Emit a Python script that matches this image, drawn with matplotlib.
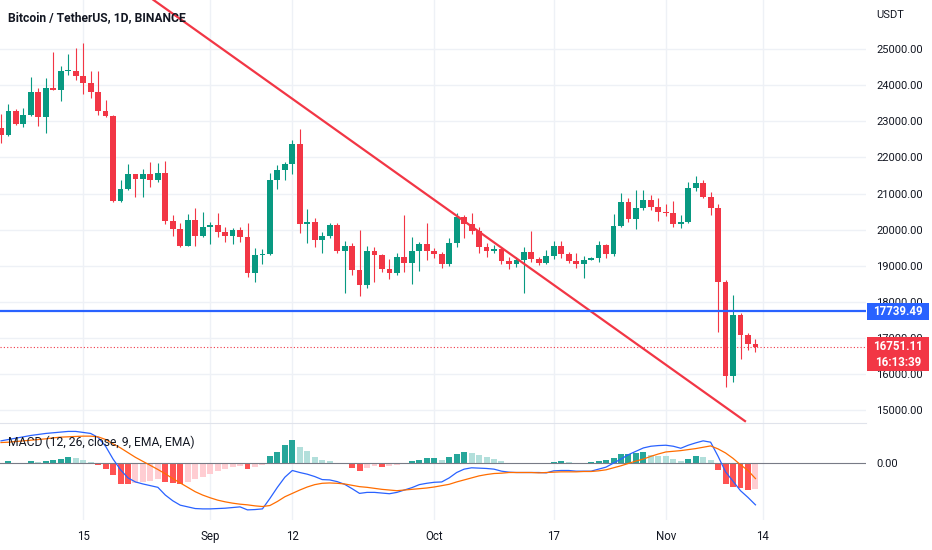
import numpy as np
import pandas as pd
import matplotlib
matplotlib.use("Agg")
import matplotlib.pyplot as plt
from matplotlib.patches import Rectangle
from matplotlib.transforms import blended_transform_factory

plt.rcParams["font.family"] = ["Roboto", "DejaVu Sans"]

# --- data (BTC/USDT daily, 2022-08-04 .. 2022-11-13) ---
start = "2022-08-04"
opens = [22810, 22620, 23290, 22930, 23170, 23810, 23110, 23920, 23880, 24400,
         24410, 24270, 24070, 23820, 23300, 23150, 20800, 21130, 21530, 21400,
         21530, 21380, 21560, 20230, 20030, 19550, 20280, 19810, 20070, 20130,
         19940, 19820, 20000, 19790, 18790, 19300, 19330, 21380, 21650, 21830,
         22380, 20160, 20200, 19700, 19830, 20130, 19410, 19540, 18880, 18460,
         19410, 19290, 18920, 18800, 19230, 19080, 19410, 19590, 19420, 19310,
         19050, 19630, 20340, 20160, 19960, 19530, 19420, 19450, 19140, 19050,
         19160, 19380, 19180, 19070, 19270, 19550, 19330, 19120, 19040, 19170,
         19210, 19570, 19330, 20090, 20770, 20290, 20600, 20820, 20630, 20480,
         20460, 20150, 20210, 21150, 21300, 20910, 20590, 18560, 15940, 17630,
         17070, 16830]
highs = [23200, 23470, 23340, 23380, 24240, 23920, 24200, 24920, 24550, 24860,
         25030, 25170, 24410, 24410, 23590, 23180, 21380, 21810, 21540, 21670,
         21880, 21840, 21900, 20400, 20180, 20420, 20590, 20480, 20220, 20450,
         20060, 20040, 20080, 20180, 19480, 19450, 21580, 21790, 21870, 22490,
         22800, 20560, 20330, 19920, 20180, 20180, 19690, 19640, 19990, 19540,
         19520, 19320, 19180, 19340, 20400, 19790, 19670, 20180, 19480, 19390,
         19760, 20470, 20410, 20450, 20060, 19620, 19570, 19530, 19250, 19250,
         19510, 19970, 19250, 19430, 19690, 19690, 19390, 19360, 19270, 19250,
         19690, 19590, 20420, 21010, 20880, 21100, 21100, 20960, 20870, 20710,
         20800, 20400, 21310, 21490, 21380, 21050, 20710, 18600, 18200, 17700,
         17140, 16970]
lows = [22410, 22600, 22900, 22840, 23150, 22880, 22670, 23870, 23580, 24290,
        24150, 23750, 23660, 23180, 23130, 20760, 20770, 21100, 20900, 20900,
        21170, 21330, 20160, 19820, 19530, 19550, 19540, 19800, 19590, 19790,
        19660, 19600, 19660, 18680, 18540, 19040, 19300, 21120, 21380, 21540,
        19900, 19640, 19530, 19340, 19780, 19340, 18250, 18740, 18170, 18370,
        18540, 18830, 18630, 18740, 18830, 18480, 18860, 19160, 19200, 18940,
        18990, 19510, 19760, 19870, 19360, 19250, 19340, 19050, 18900, 18970,
        18230, 19090, 19010, 19040, 19180, 19200, 19070, 18930, 18670, 19160,
        19110, 19200, 19270, 20070, 20210, 20020, 20540, 20540, 20250, 20380,
        20080, 20040, 20190, 21080, 20880, 20400, 17170, 15630, 15780, 16400,
        16660, 16600]
closes = [22620, 23290, 22930, 23170, 23810, 23110, 23920, 23880, 24400, 24410,
          24270, 24070, 23820, 23300, 23150, 20800, 21130, 21530, 21400, 21530,
          21380, 21560, 20230, 20030, 19550, 20280, 19810, 20070, 20130, 19940,
          19820, 20000, 19790, 18790, 19300, 19330, 21380, 21650, 21830, 22380,
          20160, 20200, 19700, 19830, 20130, 19410, 19540, 18880, 18460, 19410,
          19290, 18920, 18800, 19230, 19080, 19410, 19590, 19420, 19310, 19050,
          19630, 20340, 20160, 19960, 19530, 19420, 19450, 19140, 19050, 19160,
          19380, 19180, 19070, 19270, 19550, 19330, 19120, 19040, 19170, 19210,
          19570, 19330, 20090, 20770, 20290, 20600, 20820, 20630, 20480, 20460,
          20150, 20210, 21150, 21300, 20910, 20590, 18560, 15940, 17630, 17070,
          16830, 16751.11]

macd_line = [330, 350, 370, 390, 410, 425, 440, 450, 460, 470,
             470, 455, 440, 380, 250, 60, -100, -220, -280, -310,
             -335, -360, -475, -560, -625, -650, -675, -680, -680, -675,
             -670, -660, -650, -695, -690, -680, -525, -360, -210, -110,
             -140, -165, -200, -245, -250, -275, -315, -380, -450, -435,
             -435, -445, -455, -435, -400, -365, -320, -300, -285, -280,
             -220, -140, -90, -70, -75, -80, -90, -120, -135, -140,
             -140, -140, -140, -145, -115, -110, -110, -120, -120, -120,
             -90, -60, 0, 60, 125, 175, 225, 250, 260, 265,
             250, 220, 265, 300, 330, 310, 100, -130, -270, -410,
             -510, -620]
signal_line = [305, 310, 320, 330, 340, 350, 360, 375, 385, 390,
               395, 400, 400, 390, 350, 285, 225, 155, 85, 25,
               -35, -95, -160, -230, -295, -360, -425, -475, -515, -550,
               -575, -595, -610, -620, -635, -645, -630, -570, -500, -450,
               -400, -355, -320, -300, -295, -300, -310, -330, -350, -360,
               -375, -390, -400, -410, -400, -390, -380, -370, -355, -335,
               -315, -280, -250, -220, -190, -170, -155, -150, -140, -140,
               -140, -140, -145, -140, -135, -130, -130, -130, -125, -125,
               -115, -100, -70, -40, -5, 30, 60, 100, 135, 165,
               175, 185, 200, 215, 235, 255, 210, 150, 70, -25,
               -110, -230]
hist = [0, 25, -5, -5, 25, 10, 35, 50, 65, 85,
        80, 50, 15, -35, -85, -175, -310, -315, -300, -285,
        -265, -240, -275, -290, -310, -275, -235, -200, -160, -120,
        -90, -60, -40, -90, -60, -25, 100, 165, 275, 340,
        240, 175, 90, 50, 35, 5, -20, -70, -120, -80,
        -50, -60, -45, -25, -5, 25, 50, 70, 75, 50,
        90, 140, 160, 155, 120, 85, 65, 35, 5, -5,
        -10, -5, -10, -5, 20, 25, 15, 2, 5, 10,
        35, 40, 70, 135, 140, 150, 165, 125, 110, 100,
        65, 35, 65, 100, 85, 50, -100, -315, -350, -375,
        -400, -390]

tick_dates = ["2022-08-15", "2022-09-01", "2022-09-12", "2022-10-01",
              "2022-10-17", "2022-11-01", "2022-11-14"]
tick_labels = ["15", "Sep", "12", "Oct", "17", "Nov", "14"]
price_ticks = list(range(15000, 26000, 1000))

# drawn annotations
trend_idx = [20.4, 99.6]
trend_price = [26370, 14690]
level_price = 17739.49
last_price = closes[-1]
countdown = "16:13:39"

GREEN = "#089981"
RED = "#f23645"
BLUE = "#2962ff"
TEXT = "#131722"
GRID = "#eef1f6"


def main():
    dates = pd.date_range(start, periods=len(closes), freq="D")
    x = np.arange(len(dates))
    o, h, l, c = map(np.array, (opens, highs, lows, closes))

    fig = plt.figure(figsize=(9.32, 5.5), dpi=100)
    ax = fig.add_axes([0, 127 / 550, 866 / 932, 423 / 550])
    axm = fig.add_axes([0, 30 / 550, 866 / 932, 97 / 550], sharex=ax)

    xlim = (-0.134, 115.8)
    ticks_x = [(pd.Timestamp(d) - dates[0]).days for d in tick_dates]

    # --- candles ---
    up = c >= o
    colors = np.where(up, GREEN, RED)
    ax.vlines(x, l, h, colors=colors, linewidth=0.8, zorder=3)
    body_lo = np.minimum(o, c)
    body_h = np.maximum(np.abs(c - o), 35)
    ax.bar(x, body_h, bottom=body_lo, width=0.78, color=colors,
           linewidth=0, zorder=4)

    # trend line, level line, last price line
    ax.plot(trend_idx, trend_price, color=RED, linewidth=1.6, zorder=5)
    ax.axhline(level_price, color=BLUE, linewidth=1.6, zorder=5)
    ax.axhline(last_price, color=RED, linewidth=0.8, linestyle=(0, (1, 2)),
               zorder=2)

    ax.set_xlim(*xlim)
    ax.set_ylim(14637, 26367)
    ax.set_yticks(price_ticks)
    ax.set_yticklabels([f"{p:.2f}" for p in price_ticks])
    ax.yaxis.tick_right()
    ax.tick_params(axis="y", length=0, pad=7.2, labelsize=8, labelcolor=TEXT)
    ax.tick_params(axis="x", length=0, labelbottom=False)
    ax.set_xticks(ticks_x)
    ax.grid(True, color=GRID, linewidth=1)
    ax.set_axisbelow(True)
    for s in ax.spines.values():
        s.set_visible(False)

    # price scale badges (they cover the tick labels behind them, as on the chart)
    tr = blended_transform_factory(ax.transAxes, ax.transData)
    upp = (26367 - 14637) / 423.0  # price per pixel
    bx0 = 1 + 1 / 866
    bw = 62 / 866
    ax.add_patch(Rectangle((bx0, level_price - 8.5 * upp), bw, 17 * upp,
                           transform=tr, facecolor=BLUE, edgecolor="none",
                           clip_on=False, zorder=6))
    ax.text(bx0 + bw / 2, level_price, f"{level_price:.2f}", transform=tr,
            color="white", fontsize=8.3, fontweight="bold", ha="center",
            va="center", clip_on=False, zorder=7)
    ax.add_patch(Rectangle((bx0, last_price - 24 * upp), bw, 34 * upp,
                           transform=tr, facecolor=RED, edgecolor="none",
                           clip_on=False, zorder=6))
    ax.text(bx0 + bw / 2, last_price, f"{last_price:.2f}", transform=tr,
            color="white", fontsize=8.3, fontweight="bold", ha="center",
            va="center", clip_on=False, zorder=7)
    ax.text(bx0 + bw / 2, last_price - 15.5 * upp, countdown, transform=tr,
            color="white", fontsize=8.3, fontweight="bold", ha="center",
            va="center", clip_on=False, zorder=7)

    # --- MACD pane ---
    hv = np.array(hist, dtype=float)
    prev = np.concatenate([[hv[0]], hv[:-1]])
    hcol = []
    for v, p in zip(hv, prev):
        if v >= 0:
            hcol.append("#26a69a" if v > p else "#b2dfdb")
        else:
            hcol.append("#ff5252" if v < p else "#ffcdd2")
    axm.bar(x, hv, width=0.8, color=hcol, linewidth=0, zorder=2)
    axm.axhline(0, color="#787b86", linewidth=0.8, zorder=3)
    axm.plot(x, macd_line, color=BLUE, linewidth=0.9, zorder=4)
    axm.plot(x, signal_line, color="#ff6d00", linewidth=0.9, zorder=4)

    axm.set_ylim(-845, 595)
    axm.set_yticks([0])
    axm.set_yticklabels(["0.00"])
    axm.yaxis.tick_right()
    axm.tick_params(axis="y", length=0, pad=7.2, labelsize=8, labelcolor=TEXT)
    axm.set_xticks(ticks_x)
    axm.set_xticklabels(tick_labels)
    axm.tick_params(axis="x", length=0, pad=7, labelsize=8.3, labelcolor=TEXT)
    axm.grid(True, axis="x", color=GRID, linewidth=1)
    axm.set_axisbelow(True)
    for name, s in axm.spines.items():
        s.set_visible(name == "top")
    axm.spines["top"].set_color("#e0e3eb")
    axm.set_xlim(*xlim)

    # --- labels ---
    fig.text(8 / 932, 1 - 18 / 550, "Bitcoin / TetherUS, 1D, BINANCE",
             fontsize=8.7, fontweight="semibold", color=TEXT, va="center")
    fig.text(8 / 932, 1 - 442 / 550, "MACD (12, 26, close, 9, EMA, EMA)",
             fontsize=8.7, color=TEXT, va="center")
    fig.text(876 / 932, 1 - 15 / 550, "USDT", fontsize=8, color=TEXT,
             va="center")

    fig.savefig("out.png", dpi=100, facecolor="white")


if __name__ == "__main__":
    main()
